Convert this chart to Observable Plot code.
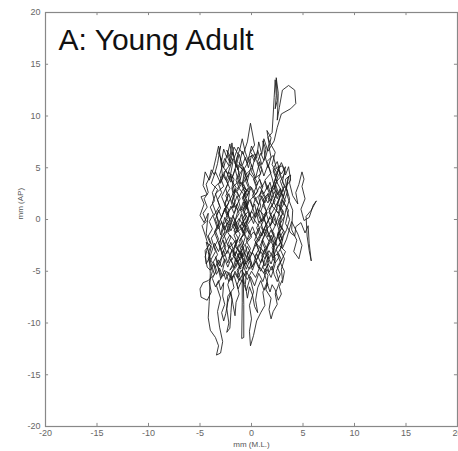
<!DOCTYPE html>
<html><head><meta charset="utf-8">
<script src="https://cdn.jsdelivr.net/npm/d3@7"></script>
<script src="https://cdn.jsdelivr.net/npm/@observablehq/plot@0.6"></script>
<style>body{margin:0;background:#fff;} svg{display:block;}</style>
</head><body><div id="chart"></div>
<script>
const titleText = "A: Young Adult";
const xLabel = "mm (M.L.)";
const yLabel = "mm (AP)";
const xTicks = [-20,-15,-10,-5,0,5,10,15,20];
const yTicks = [-20,-15,-10,-5,0,5,10,15,20];

const seg1 = [[0,0],[-0.4,1.3],[-0.2,2.6],[-0.9,3.2],[-0.7,4.7],[-1.4,5.3],[-1.1,3.9],[-1.9,3.0],[-1.6,1.5],[-2.3,0.7],[-2.0,-0.7],[-2.7,-1.4],[-2.2,-2.8],[-1.5,-2.0],[-1.8,-3.5],[-1.1,-4.3],[-1.4,-5.5],[-0.7,-6.2],[-0.9,-4.7],[-0.3,-3.8],[-0.6,-2.4],[0.0,-1.7],[-0.4,-0.5],[0.3,0.5],[-0.1,1.9],[0.6,2.7],[0.2,3.9],[0.9,4.4],[0.5,5.7],[-0.1,6.5],[0.3,7.2],[-0.1,9.3],[-0.4,7.5],[-0.8,6.3],[-1.3,7.0],[-1.7,5.9],[-1.9,7.4],[-2.2,5.2],[-2.6,5.9],[-3.1,4.3],[-2.7,3.2],[-3.5,2.5],[-3.1,1.3],[-3.7,0.3],[-3.3,-0.9],[-3.9,-1.8],[-3.5,-3.1],[-4.0,-4.0],[-3.6,-5.3]];
const seg2 = [[-4.2,-5.9],[-4.7,-6.1],[-5.0,-6.7],[-4.9,-7.5],[-4.3,-7.8],[-3.9,-7.0],[-4.1,-6.1],[-3.8,-5.0],[-4.2,-3.8],[-3.9,-2.6],[-4.4,-2.2],[-4.1,-3.4],[-4.0,-5.2],[-4.1,-7.9],[-4.2,-9.5],[-4.0,-10.7],[-3.5,-11.4],[-3.2,-12.2],[-3.4,-13.1],[-3.0,-12.9],[-2.8,-11.8],[-3.1,-10.4],[-3.3,-8.9],[-3.0,-7.6],[-3.4,-6.4],[-2.9,-5.6],[-3.3,-4.4],[-2.8,-3.5],[-3.2,-2.3],[-2.6,-1.2],[-3.0,0.0],[-2.5,1.2],[-2.9,2.2],[-2.3,3.4],[-2.7,4.5],[-2.0,5.4],[-2.4,6.7],[-1.8,5.6],[-2.1,4.0],[-1.5,3.1],[-1.9,1.8],[-1.3,0.9],[-1.7,-0.5],[-1.1,-1.4],[-1.6,-2.6],[-1.0,-3.3],[-1.5,-4.6],[-2.0,-5.2],[-1.7,-6.6],[-2.3,-7.4],[-2.4,-8.6],[-2.2,-10.0],[-2.4,-10.9],[-2.1,-10.5],[-2.0,-9.0],[-1.9,-7.7],[-2.3,-6.3],[-1.9,-5.0]];
const seg3 = [[-1.2,-3.9],[-0.7,-3.0],[-1.1,-1.9],[-0.5,-1.2],[-0.9,0.1],[-0.3,0.8],[-0.8,2.2],[-0.2,3.1],[-0.6,4.3],[0.1,5.0],[-0.3,6.0],[0.4,6.3],[0.0,4.6],[0.6,3.5],[0.1,2.3],[0.7,1.4],[0.2,0.1],[0.8,-0.8],[0.3,-2.0],[0.9,-2.9],[0.4,-4.1],[-0.2,-4.8],[-0.6,-4.2],[-0.9,-5.0],[-0.9,-8.0],[-0.95,-11.5],[-0.75,-11.4],[-0.75,-8.2],[-0.8,-5.6],[-0.5,-5.0],[-0.1,-5.8],[0.2,-7.0],[-0.2,-8.3],[0.0,-9.6],[-0.2,-10.8],[-0.1,-12.2],[0.2,-11.2],[0.5,-9.8],[0.9,-9.0],[1.3,-8.3],[1.1,-7.0],[1.6,-6.3],[1.2,-5.1],[1.7,-4.2],[1.3,-3.0],[1.9,-2.1],[1.5,-0.9],[2.1,-0.2],[1.7,1.0],[2.3,1.8],[1.9,3.0],[2.5,3.6],[2.1,4.7],[2.7,5.2],[2.3,3.9],[2.9,2.8],[2.5,1.5],[3.1,0.8],[2.6,-0.4],[3.2,-1.2],[2.7,-2.5],[3.3,-3.1],[2.8,-4.2],[2.4,-5.0],[2.7,-6.1],[2.3,-7.2],[2.5,-8.2],[2.1,-8.9],[1.9,-9.6],[1.7,-8.7],[1.9,-7.6],[1.4,-6.8],[1.6,-5.4],[1.1,-4.6],[1.4,-3.5],[0.8,-2.6]];
const seg4 = [[1.3,-1.5],[0.9,-0.3],[1.5,0.6],[1.1,1.9],[1.7,2.6],[1.3,3.8],[1.9,4.5],[1.5,5.6],[2.1,6.2],[2.4,5.0],[2.9,4.4],[3.3,5.1],[3.0,3.6],[3.5,2.7],[3.1,1.6],[3.6,0.9],[3.3,-0.4],[3.8,-1.3],[4.2,-1.6],[4.3,-0.7],[4.8,-0.3],[5.2,-1.3],[5.5,-0.6],[5.6,-2.3],[5.8,-4.0],[5.6,-3.0],[5.4,-1.6],[5.3,0.3],[5.8,0.9],[6.3,1.8],[6.0,1.4],[5.6,0.2],[5.1,-0.1],[4.8,1.0],[5.2,2.0],[4.9,3.2],[5.1,3.9],[4.9,4.6],[4.6,3.4],[4.3,2.6],[4.5,1.5],[4.0,2.3],[3.7,3.5],[3.8,4.3],[3.3,3.9],[3.5,2.2],[4.0,0.9],[3.9,-1.0],[4.4,-2.0],[4.1,-3.1],[4.6,-3.8],[4.9,-2.5],[4.5,-1.4],[3.9,-0.2],[3.4,-1.9],[3.0,-2.8],[2.6,-1.4],[2.9,0.2],[2.4,0.9],[2.8,2.3],[2.2,2.9],[2.6,4.3],[2.0,5.3],[2.3,6.5],[1.8,7.4]];
const seg5 = [[1.6,7.9],[2.0,8.4],[2.1,10.0],[2.2,11.8],[2.3,13.5],[2.4,12.0],[2.3,10.7],[2.5,11.5],[2.4,13.7],[2.6,12.2],[2.5,9.6],[2.7,10.8],[3.0,12.5],[3.6,12.95],[4.2,12.5],[4.3,11.2],[3.8,10.7],[2.9,10.2],[2.5,8.9],[2.2,7.6],[1.6,6.6],[1.2,7.8],[1.0,6.3],[0.7,7.5],[0.5,5.9],[0.0,7.1],[-0.4,5.4],[-0.9,6.6],[-1.3,4.8],[-1.8,5.9],[-2.3,4.4],[-2.9,5.3],[-3.2,7.1],[-3.4,6.2],[-3.7,4.9],[-4.1,3.8],[-4.5,4.6],[-4.7,3.3],[-4.3,2.4],[-4.9,2.2],[-4.6,1.5],[-5.0,0.4],[-4.6,-0.3],[-4.2,0.6],[-4.4,-1.4],[-4.0,-2.3],[-4.5,-3.0],[-4.4,-4.3],[-4.0,-3.5],[-3.6,-2.3],[-3.2,-3.1],[-2.8,-2.0],[-2.4,-3.3],[-2.0,-2.2],[-1.6,-3.5],[-1.2,-2.4],[-0.8,-3.6],[-0.4,-2.6],[0.0,-3.4],[0.4,-2.2],[0.8,-3.3],[1.1,-2.0],[1.5,-2.9],[1.9,-1.5],[2.3,-2.5],[2.6,-1.2],[3.0,-2.0]];
const seg6 = [[2.6,-0.8],[2.2,0.5],[1.8,-0.6],[1.4,0.7],[1.0,-0.2],[0.6,1.1],[0.2,-0.4],[-0.2,0.6],[-0.6,-0.7],[-1.0,0.5],[-1.4,-0.9],[-1.8,0.4],[-2.2,-1.2],[-2.6,0.2],[-3.0,-1.5],[-3.4,0.5],[-3.8,1.6],[-3.3,2.9],[-3.9,3.5],[-3.5,4.6],[-3.0,3.5],[-2.5,4.8],[-2.0,3.6],[-1.6,4.9],[-1.2,3.4],[-0.8,5.1],[-0.4,3.7],[0.0,5.3],[0.4,4.0],[0.8,5.6],[1.2,4.2],[1.6,5.3],[2.0,4.0],[2.4,2.5],[2.0,1.3],[2.6,0.6],[3.0,1.9],[3.4,1.2],[3.0,-0.6],[2.5,-1.8],[2.1,-3.0],[1.7,-3.8],[1.3,-2.9],[0.9,-4.2],[0.5,-3.3],[0.1,-4.6],[-0.3,-3.1],[-0.7,-4.4],[-1.1,-3.2],[-1.5,-4.1],[-1.9,-2.9],[-2.3,-4.2],[-2.7,-3.0],[-3.1,-4.5],[-3.5,-3.6],[-3.0,-5.7],[-2.6,-4.9],[-2.2,-6.0],[-1.7,-5.4],[-1.3,-6.7],[-0.9,-5.8],[-0.5,-6.9],[-0.1,-5.5],[0.3,-6.4],[0.7,-5.2],[1.1,-6.0],[1.5,-4.8],[1.9,-5.6],[2.3,-4.3],[2.1,-2.2],[1.6,-1.3],[1.2,0.3],[0.7,-0.3],[0.3,1.5],[-0.2,0.3],[-0.6,1.8],[-1.0,0.9],[-1.4,2.3],[-1.8,1.1],[-2.2,2.5],[-2.6,1.4],[-2.1,0.0],[-1.5,-1.3],[-0.9,-0.8],[-0.4,-2.0],[0.2,-1.2],[0.7,-2.1],[1.2,-1.0],[1.8,0.2],[2.3,-0.6],[2.8,0.9],[3.2,2.6],[2.8,3.7],[3.3,4.6],[2.9,5.5],[2.5,4.5],[2.1,3.3],[1.6,1.6],[1.0,2.6],[0.4,2.0],[-0.1,3.2],[-0.5,2.1],[-1.0,3.6],[-1.6,2.6],[-2.0,4.2],[-2.5,3.0]];
const seg7 = [[-2.3,2.2],[-2.6,1.6],[-2.2,0.9],[-2.5,0.1],[-2.1,-0.4],[-2.4,-1.1],[-2.0,-1.7],[-2.3,-2.4],[-1.9,-3.0],[-2.2,-3.7],[-1.8,-4.3],[-2.1,-4.9],[-1.7,-4.4],[-1.5,-3.6],[-1.8,-2.9],[-1.4,-2.2],[-1.7,-1.5],[-1.3,-0.8],[-1.6,-0.1],[-1.2,0.6],[-1.5,1.3],[-1.1,2.0],[-1.4,2.7],[-1.0,3.4],[-1.3,4.1],[-0.9,4.8],[-1.2,5.5],[-0.8,5.0],[-0.6,4.2],[-0.9,3.5],[-0.5,2.8],[-0.8,2.1],[-0.4,1.4],[-0.7,0.7],[-0.3,0.0],[-0.6,-0.7],[-0.2,-1.4],[-0.5,-2.1],[-0.1,-2.8],[-0.4,-3.5],[0.0,-4.2],[-0.3,-4.9],[-0.6,-5.4],[-1.0,-4.9],[-1.3,-5.6],[-1.6,-5.0],[-1.9,-5.9],[-2.2,-5.1],[-2.5,-5.8],[-2.8,-4.9],[-2.6,-4.0],[-2.9,-3.3],[-2.5,-2.6],[-2.8,-1.9],[-2.4,-1.2],[-2.7,-0.5],[-2.3,0.2],[-2.6,0.9],[-2.2,1.6],[-2.5,2.3],[-2.1,3.0],[-2.4,3.7],[-2.0,4.4],[-1.7,3.9],[-1.9,3.1],[-1.6,2.4],[-1.9,1.7],[-1.5,1.0],[-1.8,0.3],[-1.4,-0.4],[-1.7,-1.1],[-1.3,-1.8],[-1.6,-2.5],[-1.2,-3.2],[-1.5,-3.9],[-1.1,-4.6],[-0.8,-4.0],[-1.0,-3.2],[-0.7,-2.5],[-1.0,-1.8],[-0.6,-1.1],[-0.9,-0.4],[-0.5,0.3],[-0.8,1.0],[-0.4,1.7],[-0.7,2.4],[-0.3,3.1],[-0.6,3.8],[-0.2,4.5]];
const seg8 = [[0.2,4.0],[0.5,3.3],[0.8,3.9],[1.0,3.1],[1.3,3.7],[1.5,2.9],[1.8,3.6],[2.0,2.7],[2.3,3.3],[2.5,2.4],[2.8,3.0],[3.0,2.1],[2.7,1.3],[3.0,0.5],[2.6,-0.1],[2.9,-0.9],[2.5,-1.5],[2.8,-2.2],[2.4,-2.9],[2.7,-3.6],[2.3,-4.2],[2.0,-3.6],[2.2,-2.8],[1.9,-2.1],[2.2,-1.4],[1.8,-0.7],[2.1,0.0],[1.7,0.7],[2.0,1.4],[1.6,2.1],[1.9,2.8],[2.2,3.5],[2.4,4.2],[2.1,4.9],[2.5,5.6],[2.7,4.8],[2.9,4.0],[3.2,3.3],[2.9,2.5],[3.3,1.8],[2.9,1.1],[3.2,0.3],[2.8,-0.4],[3.1,-1.1],[2.7,-1.8],[3.0,-2.5],[2.6,-3.2],[2.9,-3.9],[2.5,-4.6],[2.8,-5.3],[2.5,-6.0],[2.2,-5.3],[2.0,-4.5],[1.7,-5.1],[1.5,-4.3],[1.7,-3.5],[1.4,-2.8],[1.7,-2.1],[1.3,-1.4],[1.6,-0.7],[1.2,0.0],[1.5,0.7],[1.1,1.4],[1.4,2.1],[1.0,2.8],[0.7,2.1],[0.9,1.3],[0.6,0.6],[0.9,-0.1],[0.5,-0.8],[0.8,-1.5],[0.4,-2.2],[0.7,-2.9],[0.3,-3.6],[0.6,-4.3],[0.9,-5.0],[1.2,-4.3],[1.0,-3.5],[1.3,-2.8],[1.0,-2.1],[1.3,-1.4],[0.9,-0.7],[1.2,0.0]];
const seg9 = [[0.9,0.8],[1.2,1.6],[0.8,2.4],[1.1,3.2],[0.7,4.0],[1.0,4.8],[0.6,5.6],[0.9,6.4],[1.2,5.7],[1.4,6.8],[1.1,7.6],[1.3,6.2],[1.6,5.0],[1.9,6.0],[1.7,7.0],[1.9,7.9],[1.5,8.6],[1.7,7.3],[1.4,6.1],[1.0,5.3],[0.6,6.7],[0.3,5.6],[0.0,6.2],[-0.3,5.0],[-0.6,6.0],[-0.9,5.2],[-1.2,6.3],[-1.5,5.1],[-1.8,6.5],[-2.1,5.5],[-2.4,6.2],[-2.7,5.0],[-3.0,6.0],[-2.8,4.0],[-3.2,3.4],[-2.9,2.6],[-3.3,1.9],[-3.0,1.1],[-3.4,0.4],[-3.1,-0.4],[-3.5,-1.1],[-3.2,-1.9],[-3.6,-2.6],[-3.3,-3.4],[-3.7,-4.1],[-3.4,-4.9],[-3.8,-5.7],[-3.5,-6.5],[-3.2,-5.9],[-3.0,-6.8],[-2.7,-6.1],[-2.8,-7.4],[-2.6,-8.2],[-2.9,-9.0],[-2.7,-9.8],[-2.5,-9.1],[-2.3,-8.0],[-2.0,-7.0],[-1.8,-8.2],[-1.6,-9.3],[-1.5,-8.0],[-1.2,-7.2],[-1.4,-6.3],[-1.1,-5.6],[-1.4,-4.9],[-1.0,-4.2],[-1.3,-3.5],[-0.9,-2.8],[-1.2,-2.1],[-0.8,-1.4],[-1.1,-0.7],[-0.7,0.0],[-1.0,0.7],[-0.6,1.4],[-0.9,2.1],[-0.5,2.8],[-0.8,3.5],[-0.4,4.2],[-0.7,4.9],[-0.3,5.6],[-0.6,6.5],[-0.9,7.8],[-1.1,6.9],[-1.4,6.0]];
const seg10 = [[-1.6,4.8],[-1.9,4.0],[-2.2,4.6],[-2.5,3.8],[-2.8,4.4],[-3.1,3.6],[-3.5,3.2],[-3.8,2.6],[-3.6,1.8],[-4.0,1.2],[-3.7,0.5],[-4.1,-0.2],[-3.8,-0.9],[-4.2,-1.6],[-3.9,-2.4],[-4.2,-3.2],[-3.9,-4.0],[-3.5,-4.6],[-3.2,-3.9],[-2.9,-4.6],[-2.6,-3.8],[-2.3,-4.6],[-2.0,-3.8],[-1.7,-4.7],[-1.4,-3.9],[-1.1,-4.8],[-0.8,-4.0],[-0.5,-4.8],[-0.2,-4.0],[0.1,-4.9],[0.4,-4.0],[0.7,-4.7],[1.0,-3.8],[1.3,-4.5],[1.6,-3.6],[1.9,-4.3],[2.2,-3.4],[2.5,-2.6],[2.2,-1.8],[1.9,-1.0],[1.6,-1.7],[1.3,-0.9],[1.0,-1.6],[0.7,-0.8],[0.4,-1.5],[0.1,-0.7],[-0.2,-1.4],[-0.5,-0.6],[-0.8,-1.3],[-1.1,-0.5],[-1.4,-1.2],[-1.7,-0.4],[-2.0,-1.1],[-2.3,-0.3],[-2.6,-1.0],[-2.9,-0.2],[-3.2,-0.9],[-3.5,0.0],[-3.2,0.9],[-2.9,0.2],[-2.6,1.1],[-2.3,0.4],[-2.0,1.3],[-1.7,0.6],[-1.4,1.5],[-1.1,0.8],[-0.8,1.7],[-0.5,1.0],[-0.2,1.9],[0.1,1.2],[0.4,2.1],[0.7,1.4],[1.0,2.3],[1.3,1.6],[1.6,2.5],[1.9,1.8],[2.2,2.7],[2.5,2.0],[2.8,2.9],[3.1,2.2],[3.4,3.2],[3.6,4.2],[3.4,3.0],[3.7,2.0],[3.4,1.0],[3.7,0.0],[3.4,-1.0]];
const seg11 = [[3.1,-1.6],[2.8,-2.9],[3.2,-3.8],[2.9,-4.8],[3.0,-5.8],[2.7,-6.5],[2.9,-7.2],[2.6,-7.8],[2.3,-6.8],[2.0,-6.3],[1.8,-7.0],[1.5,-6.1],[1.2,-6.8],[0.9,-5.9],[0.6,-6.6],[0.4,-7.8],[0.6,-9.0],[0.3,-8.4],[0.1,-7.3],[-0.2,-6.5],[-0.4,-7.6],[-0.6,-6.3],[-0.5,-5.2],[-0.8,-4.5],[-0.6,-3.4],[-0.9,-2.6],[-0.6,-1.7],[-0.9,-0.9],[-0.5,-0.1],[-0.8,0.8],[-0.4,1.6],[-0.8,2.5],[-1.2,3.0],[-1.5,3.8],[-1.2,4.6],[-1.6,5.4],[-1.3,6.3],[-1.7,7.0],[-1.9,6.2],[-2.1,7.3],[-2.4,6.0],[-2.7,6.8],[-2.9,5.7],[-3.2,6.4],[-3.0,7.1],[-3.3,5.4],[-3.6,4.3],[-3.9,4.8],[-4.1,4.0],[-4.4,3.4],[-4.2,2.6],[-4.6,2.0],[-4.3,1.2],[-4.7,0.6],[-4.4,-0.2],[-4.8,-0.6],[-4.5,-1.5],[-4.2,-2.5],[-4.5,-3.6],[-4.3,-4.6],[-4.0,-4.9],[-3.7,-4.3],[-3.4,-5.3],[-3.1,-4.7],[-2.8,-5.5],[-2.4,-5.0],[-2.0,-5.7],[-1.6,-5.2],[-1.2,-5.9],[-0.8,-5.2],[-0.4,-5.8],[0.0,-5.0],[0.4,-5.6],[0.8,-4.6],[1.2,-5.2],[1.6,-4.3],[2.0,-4.9],[2.3,-3.8],[2.0,-2.7],[2.4,-1.9],[2.0,-1.2],[2.4,-0.4],[2.1,0.3],[2.5,1.0],[2.1,1.8],[2.6,2.6],[2.3,3.5],[2.8,4.1],[2.6,5.0],[3.0,5.2],[3.3,4.3],[3.6,5.1],[3.8,3.8],[3.5,3.4]];
const seg12 = [[3.1,3.0],[2.7,2.0],[2.3,1.2],[1.9,0.5],[1.5,-0.3],[1.1,-1.1],[0.7,-1.9],[0.3,-2.7],[-0.1,-3.5],[-0.5,-4.3],[-0.9,-3.6],[-1.3,-2.8],[-1.7,-2.0],[-2.1,-1.5],[-2.5,-2.2],[-2.9,-2.9],[-3.3,-2.0],[-3.6,-1.2],[-3.2,-0.4],[-2.8,0.5],[-2.4,1.3],[-2.0,2.1],[-1.6,2.9],[-1.2,2.2],[-0.8,3.0],[-0.4,2.3],[0.0,3.1],[0.4,2.4],[0.8,3.2],[1.2,2.5],[1.6,3.3],[2.0,2.0],[1.6,1.1],[1.2,0.4],[0.8,0.9],[0.4,0.2],[0.0,0.8],[-0.4,-0.1],[-0.8,-0.6],[-1.2,0.1],[-1.6,-0.6],[-2.0,0.2],[-2.4,-0.5],[-2.8,-1.0],[-3.1,-2.5],[-2.7,-3.6],[-2.3,-3.0],[-1.9,-3.9],[-1.5,-3.1],[-1.1,-3.9],[-0.7,-3.2],[-0.3,-4.0],[0.1,-3.2],[0.5,-3.9],[0.9,-3.1],[1.3,-3.8],[1.7,-3.0],[2.1,-3.7],[2.5,-3.3],[2.9,-4.4],[3.2,-5.0],[3.0,-6.1]];

const trace = [...seg1, ...seg2, ...seg3, ...seg4, ...seg5, ...seg6, ...seg7, ...seg8, ...seg9, ...seg10, ...seg11, ...seg12];
const tl = 0.3;
const gray = "#888";
const fmt = d => String(d);

const chart = Plot.plot({
  width: 458, height: 451,
  marginLeft: 45, marginRight: 1, marginTop: 12, marginBottom: 25,
  style: {fontFamily: "'Liberation Sans', Arial, sans-serif", background: "#fff"},
  x: {domain: [-20, 20], ticks: xTicks},
  y: {domain: [-20, 20], ticks: yTicks},
  marks: [
    Plot.frame({stroke: gray, strokeWidth: 1.2}),
    Plot.ruleX(xTicks, {x: d => d, y1: -20, y2: -20 + tl, stroke: gray}),
    Plot.ruleX(xTicks, {x: d => d, y1: 20, y2: 20 - tl, stroke: gray}),
    Plot.ruleY(yTicks, {y: d => d, x1: -20, x2: -20 + tl, stroke: gray}),
    Plot.ruleY(yTicks, {y: d => d, x1: 20, x2: 20 - tl, stroke: gray}),
    Plot.axisX(xTicks, {tickSize: 0, tickPadding: 3, tickFormat: fmt, fontSize: 9, fill: "#666", label: null}),
    Plot.axisY(yTicks, {tickSize: 0, tickPadding: 5, tickFormat: fmt, fontSize: 9, fill: "#666", label: null}),
    Plot.text([xLabel], {frameAnchor: "bottom", dy: 20, fontSize: 8, fill: "#555"}),
    Plot.text([yLabel], {frameAnchor: "left", dx: -25, rotate: -90, fontSize: 8, fill: "#555"}),
    Plot.line(trace, {x: d => d[0], y: d => d[1], stroke: "#1a1a1a", strokeWidth: 0.85, strokeLinejoin: "round"}),
    Plot.text([titleText], {frameAnchor: "top-left", dx: 13, dy: 16, lineAnchor: "top", fontSize: 30, fill: "#111"})
  ]
});
document.getElementById("chart").appendChild(chart);
</script>
</body></html>
